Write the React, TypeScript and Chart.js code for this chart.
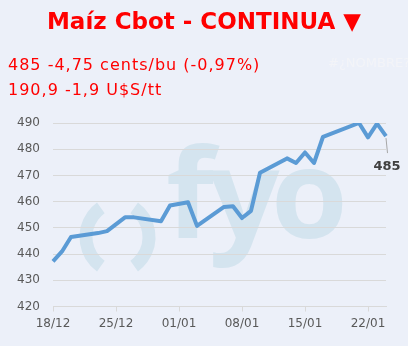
import React, { useEffect, useRef } from 'react';
import { Chart, registerables } from 'chart.js';

Chart.register(...registerables);

const titleText = 'Maíz Cbot - CONTINUA ▼';
const priceLine = '485 -4,75 cents/bu (-0,97%)';
const tonLine = '190,9 -1,9 U$S/tt';
const errText = '#¿NOMBRE?';

const tradeDates = ['18/12', '19/12', '20/12', '23/12', '24/12', '26/12', '27/12', '30/12', '31/12', '02/01', '03/01', '06/01', '07/01', '08/01', '09/01', '10/01', '13/01', '14/01', '15/01', '16/01', '17/01', '21/01', '22/01', '23/01', '24/01'];
const prices = [437.25, 441, 446.5, 448, 448.75, 454, 454, 452.5, 458.5, 459.75, 450.75, 458, 458.25, 453.75, 456.5, 471, 476.5, 474.75, 478.75, 474.75, 484.75, 490, 484.5, 489.75, 485];
const yMin = 420;
const yMax = 490;
const yStep = 10;
const tickEvery = 7;

// calendar labels (every day from first to last trade date)
const calendar: string[] = (() => {
  const out: string[] = [];
  const d = new Date(2024, 11, 18);
  const end = new Date(2025, 0, 24);
  while (d <= end) {
    out.push(String(d.getDate()).padStart(2, '0') + '/' + String(d.getMonth() + 1).padStart(2, '0'));
    d.setDate(d.getDate() + 1);
  }
  return out;
})();
const series = calendar.map((lab) => {
  const i = tradeDates.indexOf(lab);
  return i >= 0 ? prices[i] : null;
});

const BG = '#ecf0f9';
const FONT = '"DejaVu Sans", Verdana, sans-serif';

const watermark = {
  id: 'watermark',
  beforeDraw(chart: any) {
    const ctx = chart.ctx;
    ctx.save();
    ctx.fillStyle = '#d4e4ef';
    ctx.strokeStyle = '#d4e4ef';
    ctx.font = 'bold 124px "Open Sans", sans-serif';
    ctx.textBaseline = 'alphabetic';
    ctx.textAlign = 'left';
    ctx.fillText('f', 166, 238);
    ctx.fillText('y', 209, 238);
    ctx.fillText('o', 271, 238);
    ctx.lineWidth = 13;
    ctx.lineCap = 'butt';
    ctx.beginPath();
    ctx.ellipse(122, 237, 36, 36, 0, Math.PI * 0.7, Math.PI * 1.3);
    ctx.stroke();
    ctx.beginPath();
    ctx.ellipse(113, 237, 36, 36, 0, -Math.PI * 0.3, Math.PI * 0.3);
    ctx.stroke();
    ctx.restore();
  },
};

const endLabel = {
  id: 'endLabel',
  afterDatasetsDraw(chart: any) {
    const meta = chart.getDatasetMeta(0);
    const data = chart.data.datasets[0].data;
    let idx = data.length - 1;
    while (idx >= 0 && data[idx] == null) idx--;
    const pt = meta.data[idx];
    if (!pt) return;
    const ctx = chart.ctx;
    ctx.save();
    ctx.strokeStyle = '#a6a6a6';
    ctx.lineWidth = 1;
    ctx.beginPath();
    ctx.moveTo(pt.x, pt.y + 2);
    ctx.lineTo(pt.x + 1.5, pt.y + 17);
    ctx.stroke();
    ctx.fillStyle = '#404040';
    ctx.font = 'bold 13px ' + FONT;
    ctx.textAlign = 'center';
    ctx.textBaseline = 'middle';
    ctx.fillText(String(data[idx]), pt.x + 1, pt.y + 31);
    ctx.restore();
  },
};

export default function App() {
  const ref = useRef<HTMLCanvasElement>(null);
  useEffect(() => {
    document.body.style.margin = '0';
    document.body.style.background = BG;
    const chart = new Chart(ref.current!, {
      type: 'line',
      data: {
        labels: calendar,
        datasets: [
          {
            data: series,
            borderColor: '#5b9bd5',
            borderWidth: 4,
            pointRadius: 0,
            spanGaps: true,
            tension: 0,
            borderJoinStyle: 'round',
            fill: false,
          },
        ],
      },
      options: {
        responsive: false,
        animation: false,
        devicePixelRatio: 1,
        layout: { padding: { top: 123, right: 22, left: 0, bottom: 0 } },
        plugins: { legend: { display: false }, tooltip: { enabled: false }, title: { display: false } },
        scales: {
          x: {
            type: 'category',
            offset: false,
            afterFit: (s: any) => { s.height = 39.5; },
            grid: { drawOnChartArea: false, drawTicks: true, tickLength: 5, color: '#d9d9d9' },
            border: { display: true, color: '#d9d9d9' },
            ticks: {
              autoSkip: false,
              maxRotation: 0,
              padding: 5,
              color: '#595959',
              font: { family: FONT, size: 12 },
              callback: (_v: any, i: number) => (i % tickEvery === 0 ? calendar[i] : null),
            },
          },
          y: {
            min: yMin,
            max: yMax,
            afterFit: (s: any) => { s.width = 53; },
            grid: { color: '#d9d9d9', drawTicks: false },
            border: { display: false },
            ticks: { stepSize: yStep, padding: 13, color: '#595959', font: { family: FONT, size: 12 } },
          },
        },
      },
      plugins: [watermark, endLabel],
    });
    return () => chart.destroy();
  }, []);

  return (
    <div style={{ position: 'relative', width: 408, height: 346, background: BG, overflow: 'hidden' }}>
      <canvas ref={ref} width={408} height={346} style={{ position: 'absolute', left: 0, top: 0 }} />
      <div style={{ position: 'absolute', left: 0, top: 8, width: 408, textAlign: 'center', font: 'bold 23px ' + FONT, lineHeight: '26px', color: '#ff0000', whiteSpace: 'nowrap' }}>
        {titleText}
      </div>
      <div style={{ position: 'absolute', left: 8, top: 52, font: '16px ' + FONT, lineHeight: '25px', color: '#ff0000', letterSpacing: '1px', whiteSpace: 'nowrap' }}>
        <div>{priceLine}</div>
        <div>{tonLine}</div>
      </div>
      <div style={{ position: 'absolute', left: 328, top: 55, font: '13px ' + FONT, color: '#f3f4f8', whiteSpace: 'nowrap' }}>{errText}</div>
    </div>
  );
}
